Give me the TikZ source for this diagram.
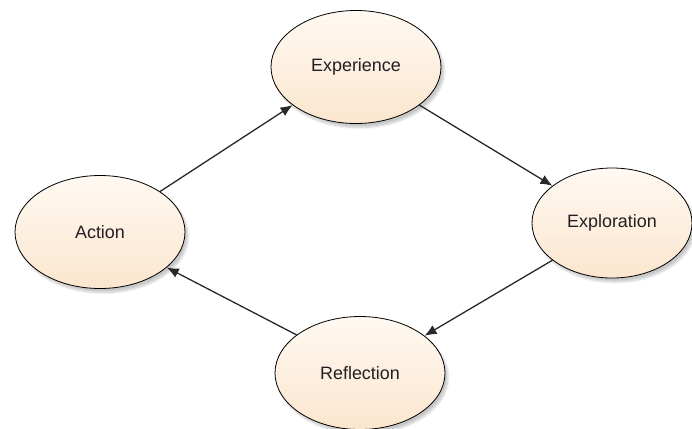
\documentclass[tikz,border=0pt]{standalone}
\usepackage{fontspec}
\setmainfont{Liberation Sans}
\usetikzlibrary{shapes.geometric,arrows.meta,shadows.blur}

\definecolor{peachlight}{RGB}{255,249,242}
\definecolor{peachdark}{RGB}{251,230,206}
\definecolor{edgegray}{RGB}{40,40,40}
\definecolor{labelgray}{RGB}{35,30,35}

\begin{document}
\begin{tikzpicture}[x=1bp, y=-1bp,
    stage/.style={ellipse, draw=black, line width=0.8bp, inner sep=0pt,
        minimum width=170bp, minimum height=113bp,
        top color=peachlight, bottom color=peachdark,
        blur shadow={shadow xshift=3bp, shadow yshift=-4bp, shadow opacity=22, shadow blur steps=10},
        text=labelgray, font=\fontsize{18}{21}\selectfont},
    flow/.style={draw=edgegray, line width=1.3bp, -{Latex[length=12bp,width=10bp]}}]
\useasboundingbox (0,0) rectangle (692,428);
\node[stage] (experience) at (356,67) {Experience};
\node[stage, minimum width=160bp, minimum height=110bp] (exploration) at (612,223) {Exploration};
\node[stage] (reflection) at (360,373) {Reflection};
\node[stage] (action) at (100,232) {Action};
\draw[flow] (action.34) -- (experience.211);
\draw[flow] (experience.329) -- (exploration.148);
\draw[flow] (exploration.212) -- (reflection.30);
\draw[flow] (reflection.149) -- (action.332);
\end{tikzpicture}
\end{document}
